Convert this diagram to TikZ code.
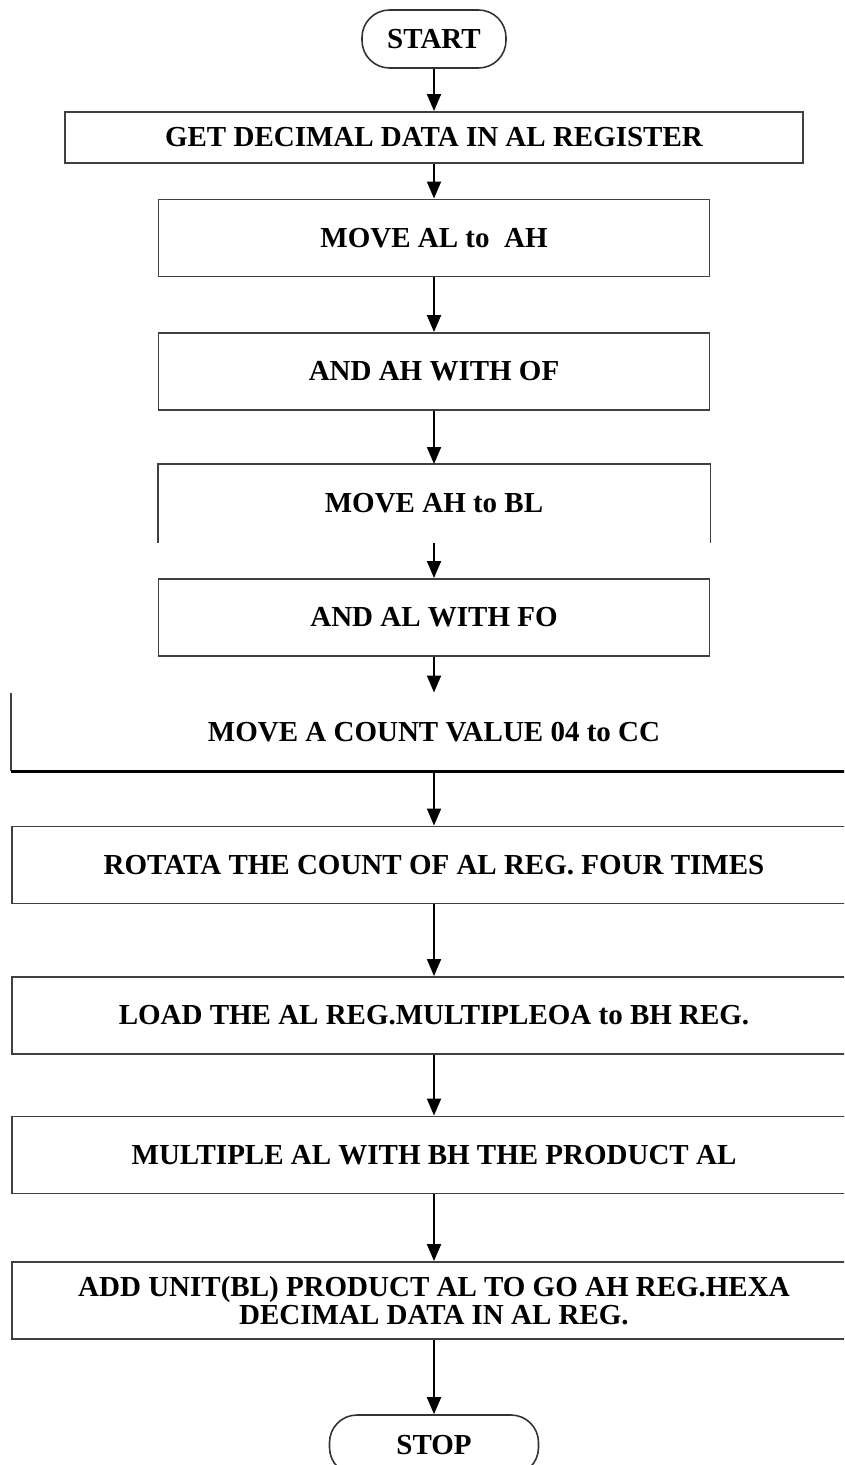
\documentclass[tikz,border=0pt]{standalone}
\usepackage{fontspec}
\setmainfont{Liberation Serif}
\usetikzlibrary{arrows.meta}

\begin{document}
\begin{tikzpicture}[
  node distance=2cm,
  terminal/.style={rectangle, rounded corners=0.55cm, draw=black!80, line width=0.9pt, minimum width=2.88cm, minimum height=1.16cm, font=\fontsize{16.5}{16}\selectfont\bfseries},
  box/.style={rectangle, draw=black!75, line width=1.1pt, minimum width=11.02cm, minimum height=1.54cm, font=\fontsize{16.5}{16}\selectfont\bfseries, align=center},
  widebox/.style={box, minimum width=16.88cm},
  arrow/.style={->, line width=1.1pt, >={Triangle[length=0.34cm, width=0.28cm]}}
]
  \clip (0,0) rectangle (16.88,-29.3);

  % Debut
  \node[terminal] (start) at (8.68,-0.78) {START};

  % Etapes
  \node[box, minimum width=14.76cm, minimum height=1.02cm, below of=start, yshift=0.03cm] (getal) {GET DECIMAL DATA IN AL REGISTER};
  \node[box, below of=getal, yshift=-0.01cm] (movealah) {MOVE AL to~ AH};
  \node[box, below of=movealah, yshift=-0.67cm] (andah) {AND AH WITH OF};
  \node[box, draw=none, below of=andah, yshift=-0.64cm] (moveahbl) {MOVE AH to BL};
  \node[box, below of=moveahbl, yshift=-0.28cm] (andal) {AND AL WITH FO};
  \node[widebox, draw=none, below of=andal, yshift=-0.29cm] (count) {MOVE A COUNT VALUE 04 to CC};
  \node[widebox, below of=count, yshift=-0.66cm] (rotate) {ROTATA THE COUNT OF AL REG. FOUR TIMES};
  \node[widebox, below of=rotate, yshift=-1.01cm] (load) {LOAD THE AL REG.MULTIPLEOA to BH REG.};
  \node[widebox, below of=load, yshift=-0.79cm] (mult) {MULTIPLE AL WITH BH THE PRODUCT AL};
  \node[widebox, below of=mult, yshift=-0.91cm] (addunit) {ADD UNIT(BL) PRODUCT AL TO GO AH REG.HEXA\\DECIMAL DATA IN AL REG.};

  % Fin
  \node[terminal, minimum width=4.18cm, minimum height=1.2cm, below of=addunit, yshift=-0.89cm] (stop) {STOP};

  % Bords partiels
  \draw[draw=black!75, line width=1.1pt] (moveahbl.south west) -- (moveahbl.north west) -- (moveahbl.north east) -- (moveahbl.south east);
  \draw[draw=black!75, line width=1.1pt] (count.north west) -- (count.south west);
  \draw[line width=1.6pt] (count.south west) -- (count.south east);

  % Fleches
  \draw[arrow] (start) -- (getal);
  \draw[arrow] (getal) -- (movealah);
  \draw[arrow] (movealah) -- (andah);
  \draw[arrow] (andah) -- (moveahbl);
  \draw[arrow] (moveahbl) -- (andal);
  \draw[arrow] (andal) -- (count);
  \draw[arrow] (count) -- (rotate);
  \draw[arrow] (rotate) -- (load);
  \draw[arrow] (load) -- (mult);
  \draw[arrow] (mult) -- (addunit);
  \draw[arrow] (addunit) -- (stop);

\end{tikzpicture}
\end{document}
